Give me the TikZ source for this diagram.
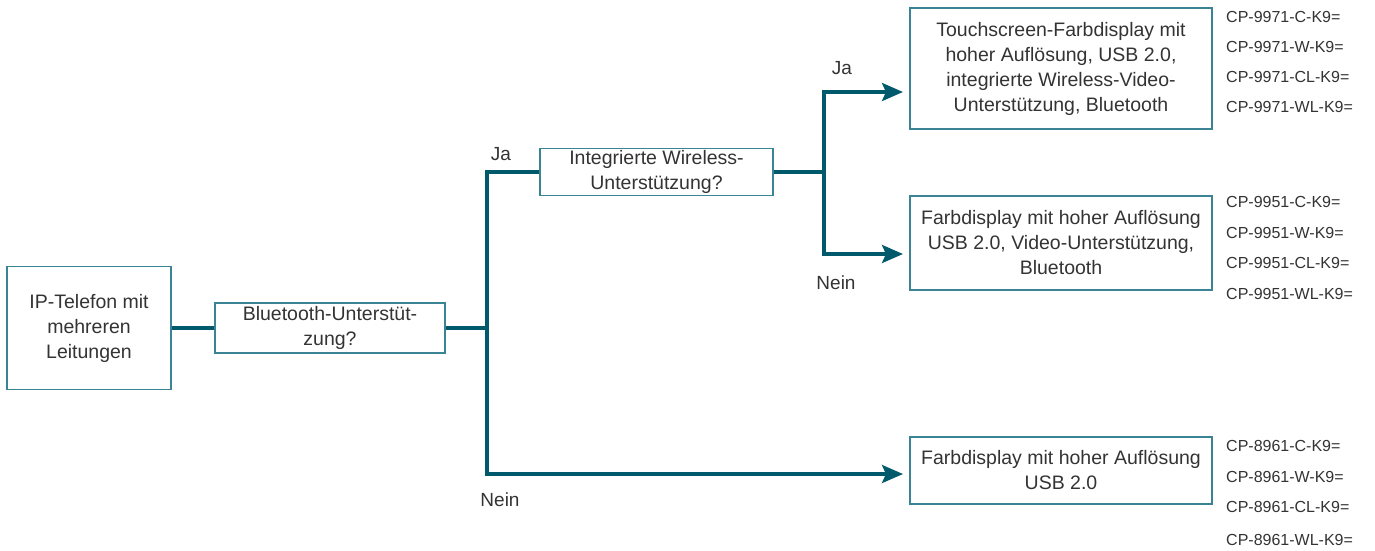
\documentclass[tikz,border=0pt]{standalone}
\usepackage{fontspec}
\setmainfont{Liberation Sans}
\usetikzlibrary{arrows.meta}
\definecolor{lineteal}{HTML}{005A6C}
\definecolor{boxteal}{HTML}{3A8496}
\definecolor{txt}{HTML}{333333}
\begin{document}
\begin{tikzpicture}[x=1pt,y=-1pt,
  box/.style={draw=boxteal,line width=1.4pt,inner sep=1pt,align=center,text=txt,
    font=\fontsize{19.5}{25}\selectfont},
  conn/.style={draw=lineteal,line width=3.4pt},
  arr/.style={conn,-{Stealth[length=21pt,width=18pt,inset=4pt]}},
  lab/.style={text=txt,font=\fontsize{19}{22}\selectfont,inner sep=0pt},
  pn/.style={text=txt,font=\fontsize{16}{18}\selectfont,anchor=west,inner sep=0pt}]
\useasboundingbox (0,0) rectangle (1375,550);
\node[box,minimum width=164pt,minimum height=123pt] (b1) at (89,328) {IP-Telefon mit\\mehreren\\Leitungen};
\node[box,minimum width=230pt,minimum height=50pt] (b2) at (330,328) {Bluetooth-Unterstüt-\\zung?};
\node[box,minimum width=233pt,minimum height=47pt] (b3) at (656.5,172) {Integrierte Wireless-\\Unterstützung?};
\node[box,minimum width=302pt,minimum height=121pt] (b4) at (1061,68.5) {Touchscreen-Farbdisplay mit\\hoher Auflösung, USB 2.0,\\integrierte Wireless-Video-\\Unterstützung, Bluetooth};
\node[box,minimum width=302pt,minimum height=94pt] (b5) at (1061,243) {Farbdisplay mit hoher Auflösung\\USB 2.0, Video-Unterstützung,\\Bluetooth};
\node[box,minimum width=302pt,minimum height=67pt] (b6) at (1061,470.5) {Farbdisplay mit hoher Auflösung\\USB 2.0};
\coordinate (s1) at (487,328);
\coordinate (s2) at (824,172);
\coordinate (a4) at (903,92);
\coordinate (a5) at (903,254);
\coordinate (a6) at (903,474);
\draw[conn] (b1.east) -- (b2.west);
\draw[conn] (b2.east) -- (s1);
\draw[conn] (s1) |- (b3.west);
\draw[arr] (s1) |- (a6);
\draw[conn] (b3.east) -- (s2);
\draw[arr] (s2) |- (a4);
\draw[arr] (s2) |- (a5);
\node[lab] (ja1) at (501,154) {Ja};
\node[lab] (nein1) at (500,500) {Nein};
\node[lab] (ja2) at (842,68) {Ja};
\node[lab] (nein2) at (836,283) {Nein};
\node[pn] (p41) at (1226,17) {CP-9971-C-K9=};
\node[pn] (p42) at (1226,47) {CP-9971-W-K9=};
\node[pn] (p43) at (1226,77) {CP-9971-CL-K9=};
\node[pn] (p44) at (1226,107) {CP-9971-WL-K9=};
\node[pn] (p51) at (1226,202) {CP-9951-C-K9=};
\node[pn] (p52) at (1226,233) {CP-9951-W-K9=};
\node[pn] (p53) at (1226,263) {CP-9951-CL-K9=};
\node[pn] (p54) at (1226,294) {CP-9951-WL-K9=};
\node[pn] (p61) at (1226,446) {CP-8961-C-K9=};
\node[pn] (p62) at (1226,477) {CP-8961-W-K9=};
\node[pn] (p63) at (1226,507) {CP-8961-CL-K9=};
\node[pn] (p64) at (1226,540) {CP-8961-WL-K9=};
\end{tikzpicture}
\end{document}
